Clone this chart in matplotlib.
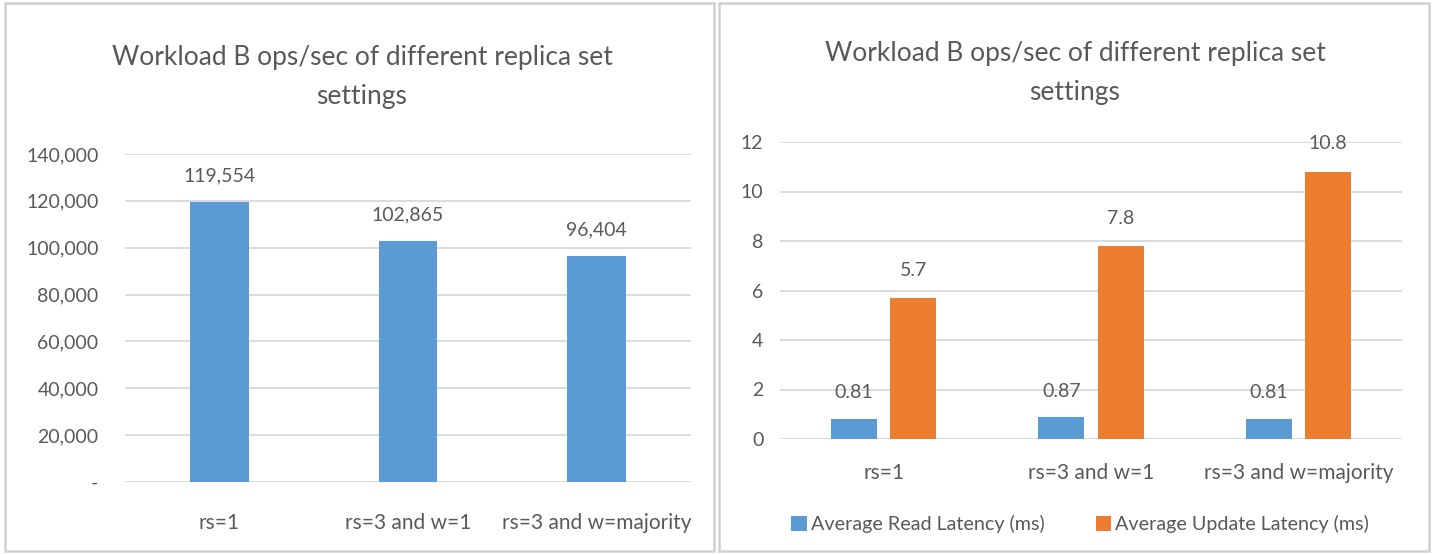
import matplotlib
matplotlib.use("Agg")
import matplotlib.pyplot as plt
import matplotlib.patches as mpatches
from matplotlib.ticker import FuncFormatter, MultipleLocator
import numpy as np

plt.rcParams['font.family'] = ['Lato', 'DejaVu Sans']

# replica set configurations
settings = ['rs=1', 'rs=3 and w=1', 'rs=3 and w=majority']

# throughput (ops/sec)
ops_per_sec = [119554, 102865, 96404]

# latencies (ms)
read_latency = [0.81, 0.87, 0.81]
update_latency = [5.7, 7.8, 10.8]

title = 'Workload B ops/sec of different replica set\nsettings'

blue = '#5B9BD5'
orange = '#ED7D31'
grid_col = '#D9D9D9'
text_col = '#595959'

fig = plt.figure(figsize=(14.35, 5.54), dpi=100)
fig.patch.set_facecolor('white')

# panel frames
fig.patches.append(mpatches.Rectangle((5 / 1435, 3 / 554), 709 / 1435, 548 / 554,
                                      transform=fig.transFigure, fill=False,
                                      edgecolor='#D0D0D0', lw=1.8))
fig.patches.append(mpatches.Rectangle((719 / 1435, 3 / 554), 710 / 1435, 548 / 554,
                                      transform=fig.transFigure, fill=False,
                                      edgecolor='#D0D0D0', lw=1.8))


def style_axes(ax):
    for s in ax.spines.values():
        s.set_visible(False)
    ax.grid(axis='y', color=grid_col, lw=1.3)
    ax.set_axisbelow(True)
    ax.tick_params(length=0, colors=text_col, labelsize=14)
    ax.tick_params(axis='x', labelsize=15)


### Left: throughput

ax1 = fig.add_axes([125 / 1435, 1 - 482 / 554, 566 / 1435, 328 / 554])
x = np.arange(len(settings))
ax1.bar(x, ops_per_sec, width=0.31, color=blue, zorder=2)
ax1.set_xlim(-0.5, 2.5)
ax1.set_ylim(0, 140000)
ax1.yaxis.set_major_locator(MultipleLocator(20000))
ax1.yaxis.set_major_formatter(FuncFormatter(lambda v, p: '-' if v == 0 else '{:,.0f}'.format(v)))
ax1.set_xticks(x)
ax1.set_xticklabels(settings)
style_axes(ax1)
ax1.tick_params(axis='x', pad=22)
ax1.tick_params(axis='y', pad=19)

for i, v in enumerate(ops_per_sec):
    ax1.annotate('{:,}'.format(v), (x[i], v), xytext=(0, 19), textcoords='offset points',
                 ha='center', va='center', fontsize=14, color=text_col)

fig.text(362 / 1435, 1 - 77 / 554, title, ha='center', va='center',
         fontsize=19, color=text_col, linespacing=1.72)

### Right: latency

ax2 = fig.add_axes([780 / 1435, 1 - 439 / 554, 622 / 1435, 297 / 554])
w = 0.222
ax2.bar(x - 0.143, read_latency, width=w, color=blue, zorder=2,
        label='Average Read Latency (ms)')
ax2.bar(x + 0.143, update_latency, width=w, color=orange, zorder=2,
        label='Average Update Latency (ms)')
ax2.set_xlim(-0.5, 2.5)
ax2.set_ylim(0, 12)
ax2.yaxis.set_major_locator(MultipleLocator(2))
ax2.set_xticks(x)
ax2.set_xticklabels(settings)
style_axes(ax2)
ax2.tick_params(axis='x', pad=17)
ax2.tick_params(axis='y', pad=12)

for i in range(len(settings)):
    ax2.annotate('{:g}'.format(read_latency[i]), (x[i] - 0.143, read_latency[i]),
                 xytext=(0, 19), textcoords='offset points',
                 ha='center', va='center', fontsize=14, color=text_col)
    ax2.annotate('{:g}'.format(update_latency[i]), (x[i] + 0.143, update_latency[i]),
                 xytext=(0, 20), textcoords='offset points',
                 ha='center', va='center', fontsize=14, color=text_col)

fig.text(1075 / 1435, 1 - 73 / 554, title, ha='center', va='center',
         fontsize=19, color=text_col, linespacing=1.72)

leg = fig.legend(loc='center', bbox_to_anchor=(1080 / 1435, 1 - 524 / 554), ncol=2,
                 frameon=False, fontsize=14.2, handlelength=0.8, handleheight=0.8,
                 handletextpad=0.2, columnspacing=2.6)
for t in leg.get_texts():
    t.set_color(text_col)

fig.savefig('out.png', dpi=100, facecolor='white')
